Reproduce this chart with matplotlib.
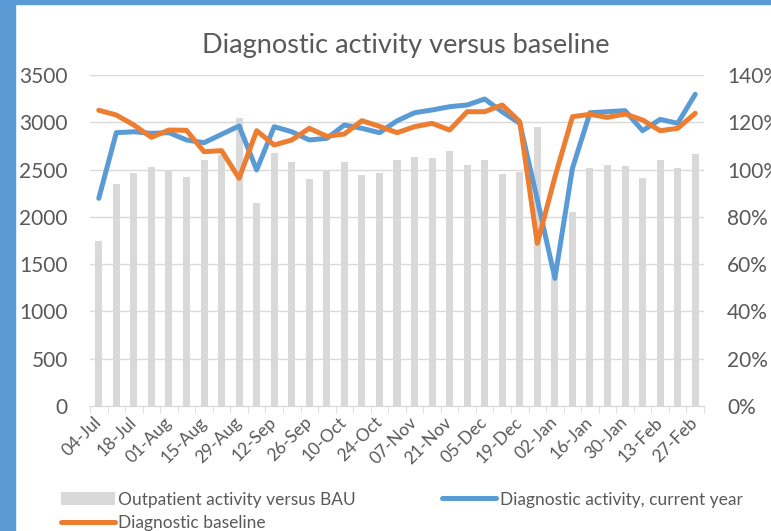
#!/usr/bin/env python3

import numpy as np
import matplotlib
matplotlib.use('Agg')
import matplotlib.pyplot as plt
from matplotlib.patches import Rectangle
from matplotlib.ticker import FuncFormatter

plt.rcParams['font.family'] = ['Lato', 'DejaVu Sans']

# weekly dates, 04-Jul .. 27-Feb
weeks = ['04-Jul', '11-Jul', '18-Jul', '25-Jul', '01-Aug', '08-Aug', '15-Aug',
         '22-Aug', '29-Aug', '05-Sep', '12-Sep', '19-Sep', '26-Sep', '03-Oct',
         '10-Oct', '17-Oct', '24-Oct', '31-Oct', '07-Nov', '14-Nov', '21-Nov',
         '28-Nov', '05-Dec', '12-Dec', '19-Dec', '26-Dec', '02-Jan', '09-Jan',
         '16-Jan', '23-Jan', '30-Jan', '06-Feb', '13-Feb', '20-Feb', '27-Feb']

# outpatient activity versus BAU (%), right axis
outpatient = [70, 94, 98.5, 101, 99.5, 97, 104, 106, 122, 86, 107, 103, 96,
              99.5, 103, 97.5, 98.5, 104, 105.5, 105, 108, 102, 104, 98, 99,
              118, 55, 82, 100.5, 102, 101.5, 96.5, 104, 100.5, 106.5]

# diagnostic activity, current year (left axis)
current = [2196, 2890, 2900, 2883, 2890, 2813, 2784, 2873, 2961, 2496, 2953,
           2900, 2813, 2830, 2971, 2936, 2890, 3015, 3101, 3130, 3165, 3183,
           3246, 3110, 2989, 2180, 1350, 2513, 3101, 3112, 3123, 2911, 3031,
           2989, 3296]

# diagnostic baseline (left axis)
baseline = [3127, 3077, 2971, 2841, 2918, 2915, 2689, 2700, 2408, 2911, 2760,
            2813, 2936, 2852, 2876, 3017, 2957, 2890, 2953, 2989, 2918, 3112,
            3112, 3183, 3006, 1720, 2420, 3059, 3084, 3052, 3088, 3024, 2911,
            2936, 3095]

grey_txt = '#595959'
grid_col = '#D9D9D9'
blue = '#5B9BD5'
orange = '#ED7D31'

fig = plt.figure(figsize=(7.71, 5.31), dpi=100)
fig.patch.set_facecolor('white')

# blue frame on the left and top (chart is cropped)
fig.patches.append(Rectangle((0, 0), 15 / 771, 1, transform=fig.transFigure,
                             color=blue, zorder=0))
fig.patches.append(Rectangle((0, 1 - 4 / 531), 1, 4 / 531,
                             transform=fig.transFigure, color=blue, zorder=0))

ax = fig.add_axes([90 / 771, 1 - 406 / 531, 614 / 771, 331 / 531])
ax2 = ax.twinx()

x = np.arange(len(weeks))

# bars on the right axis, behind the lines
ax2.bar(x, np.array(outpatient) / 100, width=0.4, color=grid_col,
        label='Outpatient activity versus BAU')
ax2.set_ylim(0, 1.4)
ax2.set_yticks(np.arange(0, 1.41, 0.2))
ax2.yaxis.set_major_formatter(FuncFormatter(lambda v, p: '{:.0f}%'.format(v * 100)))

ax.set_zorder(ax2.get_zorder() + 1)
ax.patch.set_visible(False)

l1, = ax.plot(x, current, color=blue, lw=3.6, solid_joinstyle='round',
              solid_capstyle='round', label='Diagnostic activity, current year')
l2, = ax.plot(x, baseline, color=orange, lw=3.6, solid_joinstyle='round',
              solid_capstyle='round', label='Diagnostic baseline')

ax.set_ylim(0, 3500)
ax.set_yticks(np.arange(0, 3501, 500))
ax.set_xlim(-0.5, len(weeks) - 0.5)

# gridlines drawn on the bar axes so they sit under the bars
for v in np.arange(0.2, 1.41, 0.2):
    ax2.axhline(v, color=grid_col, lw=1, zorder=0)

for a in (ax, ax2):
    for s in ('top', 'left', 'right'):
        a.spines[s].set_visible(False)
    a.spines['bottom'].set_color(grid_col)
    a.tick_params(axis='y', length=0, labelsize=15, colors=grey_txt)

ax.tick_params(axis='y', pad=16)
ax2.tick_params(axis='y', pad=16.5)

ax.set_xticks(x[::2])
ax.set_xticklabels(weeks[::2], rotation=45, ha='right', va='center',
                   rotation_mode='anchor')
ax.set_xticks(np.arange(-0.5, len(weeks)), minor=True)
ax.tick_params(axis='x', which='major', length=0, pad=10, labelsize=12.5,
               colors=grey_txt)
ax.tick_params(axis='x', which='minor', length=5, color=grid_col)
ax2.tick_params(axis='x', length=0)

ax.set_title('Diagnostic activity versus baseline', fontsize=19.5,
             color=grey_txt, pad=16, x=0.515)

bars = ax2.containers[0]
leg = fig.legend([bars, l2, l1],
                 ['Outpatient activity versus BAU', 'Diagnostic baseline',
                  'Diagnostic activity, current year'],
                 ncol=2, loc='lower left', bbox_to_anchor=(52 / 771, -0.017),
                 frameon=False, fontsize=12.5, handlelength=3.1,
                 handletextpad=0.2, labelspacing=0.45, columnspacing=5.0,
                 borderaxespad=0.1)
for t in leg.get_texts():
    t.set_color(grey_txt)

fig.savefig('out.png', dpi=100)
